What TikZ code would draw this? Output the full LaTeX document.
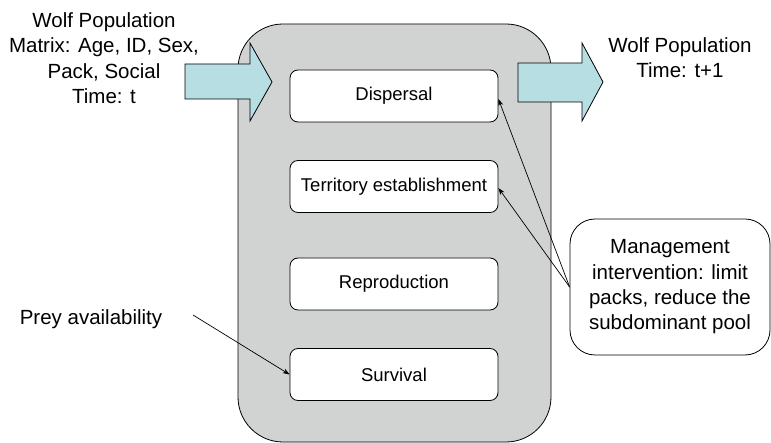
\documentclass[tikz,border=0pt]{standalone}
\usepackage{fontspec}
\setmainfont{Liberation Sans}
\usetikzlibrary{arrows.meta}
\definecolor{boxgray}{RGB}{209,210,210}
\definecolor{arrowcyan}{RGB}{183,222,226}
\begin{document}
\begin{tikzpicture}[x=1pt,y=-1pt,
  stagebox/.style={draw, fill=white, line width=0.8pt, rounded corners=8pt,
    minimum width=208pt, minimum height=52pt, inner sep=0pt,
    font=\fontsize{18.5}{22}\selectfont},
  lbltext/.style={font=\fontsize{20.5}{25.3}\selectfont, align=center, inner sep=0pt},
  blockarrow/.style={draw, fill=arrowcyan, line width=0.8pt},
  conn/.style={-{Stealth[length=7pt,width=5pt]}, line width=0.7pt}
]
\useasboundingbox (0,0) rectangle (771,443);

% main grey container
\node[draw, fill=boxgray, line width=0.8pt, rounded corners=45pt,
      minimum width=313pt, minimum height=418pt, inner sep=0pt] (main) at (394.5,233) {};

% stages
\node[stagebox] (disp) at (394,96) {Dispersal};
\node[stagebox] (terr) at (394,186.5) {Territory establishment};
\node[stagebox] (repr) at (394,284) {Reproduction};
\node[stagebox] (surv) at (394,374.5) {Survival};

% block arrows
\draw[blockarrow] (185,64) -- (250,64) -- (250,43) -- (272,82) -- (250,121)
  -- (250,99) -- (185,99) -- cycle;
\draw[blockarrow] (518,63) -- (582,63) -- (582,43) -- (603,82) -- (582,121)
  -- (582,102) -- (518,102) -- cycle;

% texts
\node[lbltext, anchor=north] (intxt) at (104,12.5)
  {Wolf Population\\Matrix: Age, ID, Sex,\\Pack, Social\\Time: t};
\node[lbltext, anchor=north] (outtxt) at (680,37.5)
  {Wolf Population\\Time: t+1};
\node[lbltext, anchor=base] (prey) at (91,325) {Prey availability};

% management box
\node[draw, fill=white, line width=0.8pt, rounded corners=25pt,
      minimum width=200pt, minimum height=136pt, inner sep=0pt,
      font=\fontsize{20.5}{25.3}\selectfont, align=center] (mgmt) at (670,287)
  {Management\\intervention: limit\\packs, reduce the\\subdominant pool};

% connectors
\coordinate (preyend) at (193,315);
\draw[conn] (preyend) -- (surv.west);
\draw[conn] (mgmt.west) -- ([yshift=-3pt]disp.east);
\draw[conn] (mgmt.west) -- ([yshift=-1.5pt]terr.east);
\end{tikzpicture}
\end{document}
